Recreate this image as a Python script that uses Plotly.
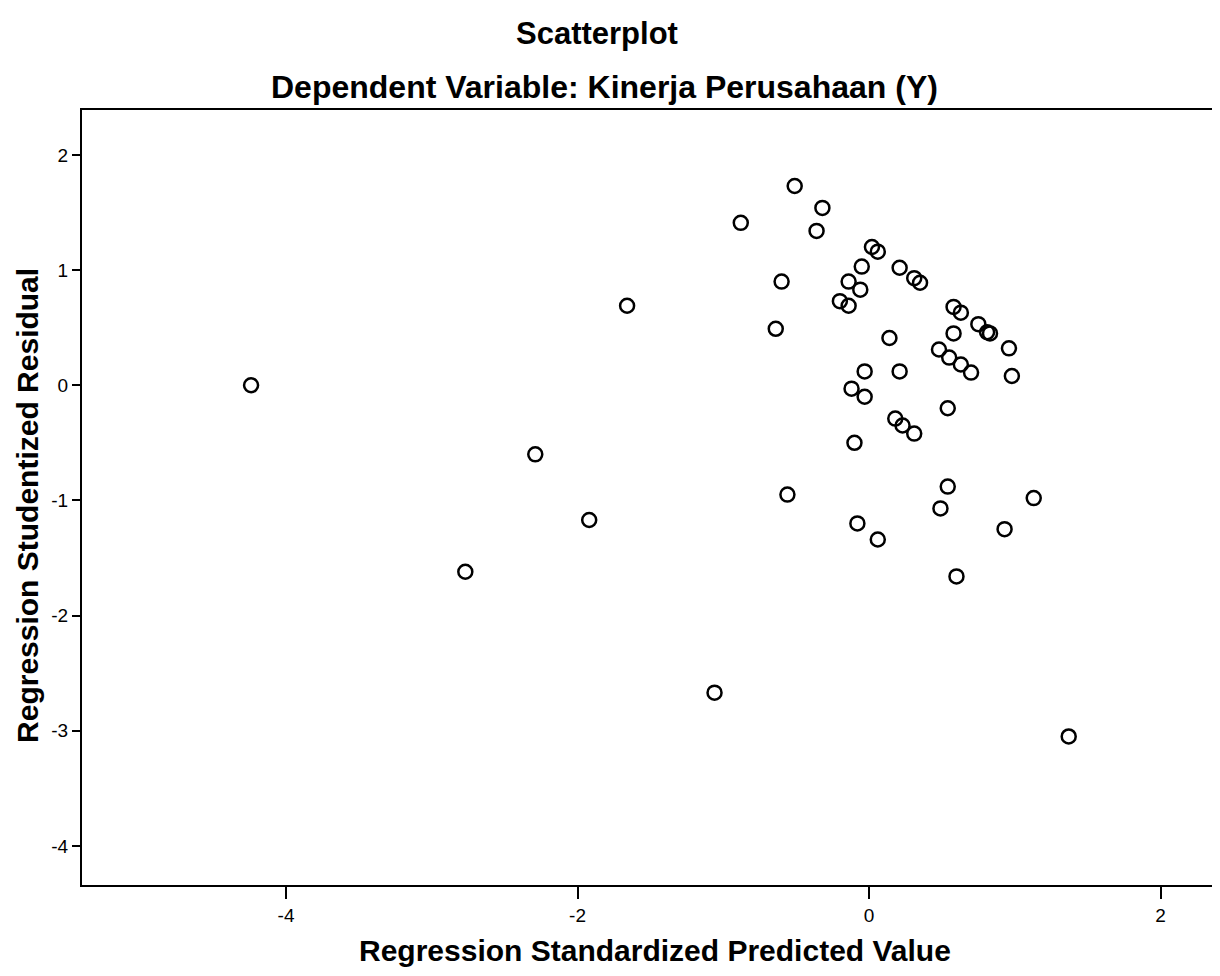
import plotly.graph_objects as go

# Regression Standardized Predicted Value (x) and Studentized Residual (y)
pred = [-4.24, -1.66, -2.29, -1.92, -2.77, -1.06, 1.37,
        -0.51, -0.32, -0.88, -0.36, 0.02, 0.06, -0.05, 0.21, 0.31, 0.35,
        -0.60, -0.14, -0.06, -0.20, -0.14, 0.58, 0.63, -0.64, 0.75, 0.81,
        0.83, 0.58, 0.14, 0.96, 0.48, 0.55, 0.63, 0.70, -0.03, 0.21, 0.98,
        -0.12, -0.03, 0.54, 0.18, 0.23, 0.31, -0.10, 0.54, -0.56, 1.13,
        0.49, -0.08, 0.93, 0.06, 0.60]
resid = [0.00, 0.69, -0.60, -1.17, -1.62, -2.67, -3.05,
         1.73, 1.54, 1.41, 1.34, 1.20, 1.16, 1.03, 1.02, 0.93, 0.89,
         0.90, 0.90, 0.83, 0.73, 0.69, 0.68, 0.63, 0.49, 0.53, 0.46,
         0.45, 0.45, 0.41, 0.32, 0.31, 0.24, 0.18, 0.11, 0.12, 0.12, 0.08,
         -0.03, -0.10, -0.20, -0.29, -0.35, -0.42, -0.50, -0.88, -0.95, -0.98,
         -1.07, -1.20, -1.25, -1.34, -1.66]

x_ticks = [-4, -2, 0, 2]
x_tick_text = ["-4", "-2", "0", "2"]
y_ticks = [-4, -3, -2, -1, 0, 1, 2]
y_tick_text = ["-4", "-3", "-2", "-1", "0", "1", "2"]

title_main = "Scatterplot"
title_sub = "Dependent Variable: Kinerja Perusahaan (Y)"
x_title = "Regression Standardized Predicted Value"
y_title = "Regression Studentized Residual"

fig = go.Figure()
fig.add_trace(go.Scatter(
    x=pred, y=resid, mode="markers",
    marker=dict(symbol="circle-open", size=14, color="black",
                line=dict(width=2.5, color="black")),
    showlegend=False, hoverinfo="x+y"))

font_family = "Liberation Sans, Arial, sans-serif"

fig.update_layout(
    width=1212, height=968,
    margin=dict(l=74, r=5, t=102, b=91),
    paper_bgcolor="white", plot_bgcolor="white",
    font=dict(family=font_family, color="black"),
    xaxis=dict(range=[-5.40, 2.36], tickvals=x_ticks, ticktext=x_tick_text,
               ticks="outside", ticklen=12, tickwidth=2, tickcolor="black",
               showline=True, linecolor="black", linewidth=2, mirror=True,
               showgrid=False, zeroline=False,
               tickfont=dict(size=19, family=font_family, color="black")),
    yaxis=dict(range=[-4.34, 2.39], tickvals=y_ticks, ticktext=y_tick_text,
               ticks="outside", ticklen=8, tickwidth=2, tickcolor="black",
               showline=True, linecolor="black", linewidth=2, mirror=True,
               showgrid=False, zeroline=False,
               tickfont=dict(size=19, family=font_family, color="black")),
    annotations=[
        dict(text="<b>" + title_main + "</b>", xref="paper", yref="paper",
             x=0.455, y=1.099, showarrow=False, xanchor="center", yanchor="middle",
             font=dict(size=31, family=font_family, color="black")),
        dict(text="<b>" + title_sub + "</b>", xref="paper", yref="paper",
             x=0.462, y=1.030, showarrow=False, xanchor="center", yanchor="middle",
             font=dict(size=32, family=font_family, color="black")),
        dict(text="<b>" + x_title + "</b>", xref="paper", yref="paper",
             x=0.507, y=-0.084, showarrow=False, xanchor="center", yanchor="middle",
             font=dict(size=30, family=font_family, color="black")),
        dict(text="<b>" + y_title + "</b>", xref="paper", yref="paper",
             x=-0.048, y=0.49, showarrow=False, xanchor="center", yanchor="middle",
             textangle=-90,
             font=dict(size=30, family=font_family, color="black")),
    ],
)

fig.write_html("out.html")
